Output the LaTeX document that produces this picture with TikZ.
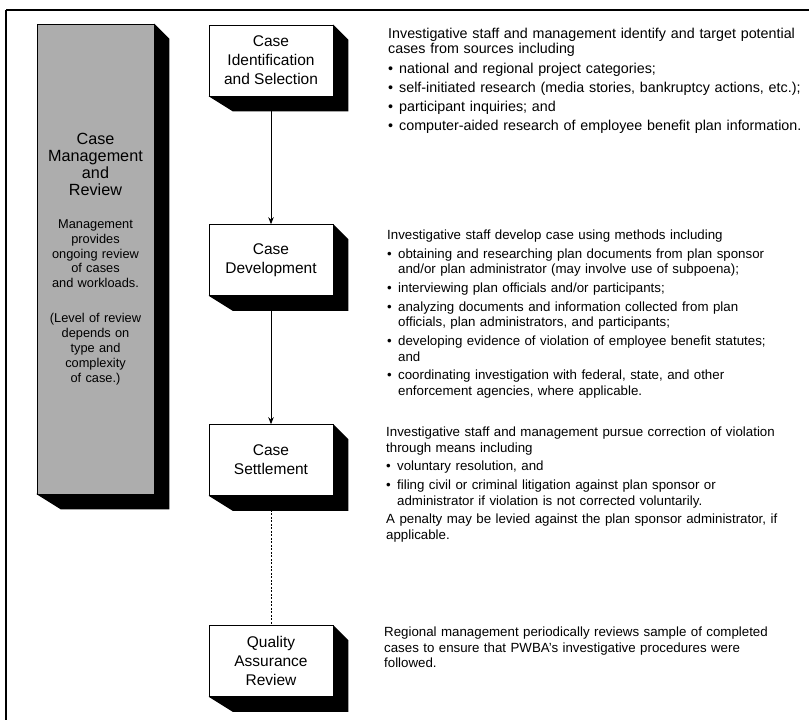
\documentclass[tikz,border=0pt]{standalone}
\usepackage{fontspec}
\setmainfont{Liberation Sans}
\usetikzlibrary{arrows.meta,backgrounds}

\newcommand{\bulitem}[1]{\par\hangindent=11pt\hangafter=1\noindent\makebox[11pt][l]{\textbullet}#1}

\tikzset{
  stepbox/.style={draw, line width=0.6pt, fill=white, minimum width=124pt,
    minimum height=71pt, inner sep=0pt, align=center,
    font=\fontsize{15.5}{19}\selectfont},
  colbox/.style={draw, line width=0.6pt, fill=black!32, minimum width=117pt,
    minimum height=470pt, inner sep=0pt, text width=114pt,
    font=\fontsize{12.8}{14.9}\selectfont},
  notes/.style={anchor=north west, inner sep=0pt, text width=423pt,
    font=\fontsize{13.3}{15.2}\selectfont,
    execute at begin node={\raggedright\setlength{\parskip}{3.7pt}}},
  bignotes/.style={notes, font=\fontsize{14.3}{15.4}\selectfont},
  flow/.style={line width=0.9pt, -{Stealth[length=7pt,width=5.5pt]}},
  weak/.style={line width=0.9pt, dash pattern=on 2pt off 1.5pt},
  boxshade/.style={fill=black}
}

\begin{document}
\begin{tikzpicture}[x=1pt,y=-1pt]
  \useasboundingbox (0,0) rectangle (809,720);

  % Frame
  \draw[line width=1.6pt] (6,10) -- (809,10);
  \draw[line width=1.1pt] (6,10) -- (6,720);

  % Management column
  \node[colbox] (mgmt) at (95.5,259) {\centering
    {\fontsize{16.2}{17}\selectfont Case\\ Management\\ and\\ Review\par}
    \vspace{18pt}
    Management\\ provides\\ ongoing review\\ of cases\\ and workloads.\par
    \vspace{20pt}
    (Level of review\\ depends on\\ type and\\ complexity\\ of case.)\par};

  % Process steps
  \node[stepbox] (idbox)  at (271,60.5) {Case\\Identification\\and Selection};
  \node[stepbox] (devbox) at (271,260)  {Case\\Development};
  \node[stepbox] (setbox) at (271,460)  {Case\\Settlement};
  \node[stepbox] (qabox)  at (271,661)  {Quality\\Assurance\\Review};

  % Shadows behind the boxes
  \begin{pgfonlayer}{background}
    \foreach \b in {mgmt, idbox, devbox, setbox, qabox} {
      \fill[boxshade] (\b.north east) -- ++(15,15)
        -- ([shift={(15,15)}]\b.south east)
        -- ([shift={(24,15)}]\b.south west)
        -- (\b.south west) -- cycle;
    }
  \end{pgfonlayer}

  % Connectors
  \draw[flow] (idbox) -- (devbox);
  \draw[flow] (devbox) -- (setbox);
  \draw[weak] (setbox) -- (qabox);

  % Descriptions
  \node[bignotes] (idtext) at (388,28) {Investigative staff and management identify and target potential\newline cases from sources including
    \bulitem{national and regional project categories;}
    \bulitem{self-initiated research (media stories, bankruptcy actions, etc.);}
    \bulitem{participant inquiries; and}
    \bulitem{computer-aided research of employee benefit plan information.}\par};

  \node[notes] (devtext) at (387,230) {Investigative staff develop case using methods including
    \bulitem{obtaining and researching plan documents from plan sponsor\newline and/or plan administrator (may involve use of subpoena);}
    \bulitem{interviewing plan officials and/or participants;}
    \bulitem{analyzing documents and information collected from plan\newline officials, plan administrators, and participants;}
    \bulitem{developing evidence of violation of employee benefit statutes;\newline and}
    \bulitem{coordinating investigation with federal, state, and other\newline enforcement agencies, where applicable.}\par};

  \node[notes] (settext) at (386,427) {Investigative staff and management pursue correction of violation\newline through means including
    \bulitem{voluntary resolution, and}
    \bulitem{filing civil or criminal litigation against plan sponsor or\newline administrator if violation is not corrected voluntarily.}
    \par A penalty may be levied against the plan sponsor administrator, if\newline applicable.\par};

  \node[notes] (qatext) at (384,627) {Regional management periodically reviews sample of completed\newline cases to ensure that PWBA's investigative procedures were\newline followed.\par};
\end{tikzpicture}
\end{document}
